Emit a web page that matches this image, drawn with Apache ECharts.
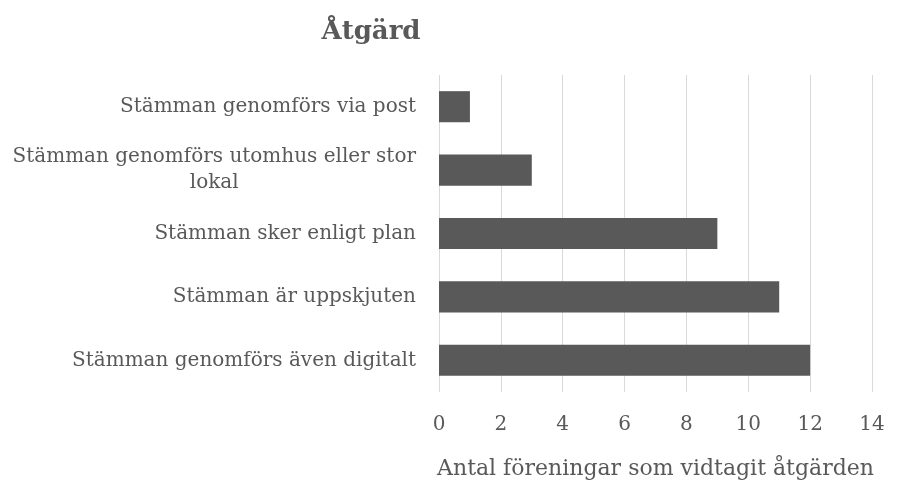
<!DOCTYPE html>
<html lang="sv">
<head>
  <meta charset="UTF-8" />
  <title>Åtgärd</title>
  <script src="https://cdn.jsdelivr.net/npm/echarts@6/dist/echarts.min.js"></script>
  <style>
    body { margin: 0; background: #ffffff; }
    #chart { width: 897px; height: 493px; }
  </style>
</head>
<body>
  <div id="chart"></div>
  <script>
    const categories = [
      'Stämman genomförs via post',
      'Stämman genomförs utomhus eller stor\nlokal',
      'Stämman sker enligt plan',
      'Stämman är uppskjuten',
      'Stämman genomförs även digitalt'
    ];
    const values = [1, 3, 9, 11, 12];
    const xTicks = { min: 0, max: 14, interval: 2 };

    const font = 'DejaVu Serif';
    const grey = '#595959';

    const chart = echarts.init(document.getElementById('chart'));
    chart.setOption({
      animation: false,
      title: {
        text: 'Åtgärd',
        left: 366, top: 14,
        textAlign: 'center',
        textStyle: { fontFamily: font, fontWeight: 'bold', fontSize: 26, color: grey }
      },
      grid: { left: 439, right: 25, top: 75, bottom: 101 },
      xAxis: {
        type: 'value',
        min: xTicks.min, max: xTicks.max, interval: xTicks.interval,
        name: 'Antal föreningar som vidtagit åtgärden',
        nameLocation: 'middle',
        nameGap: 66,
        nameTextStyle: { fontFamily: font, fontSize: 22, color: grey },
        axisLine: { show: false },
        axisTick: { show: false },
        axisLabel: { margin: 23, fontFamily: font, fontSize: 20, color: grey },
        splitLine: { lineStyle: { color: '#d9d9d9', width: 1 } }
      },
      yAxis: {
        type: 'category',
        data: categories,
        inverse: true,
        axisLine: { show: false },
        axisTick: { show: false },
        axisLabel: {
          margin: 23,
          formatter: v => v.split('\n').map(s => '{c|' + s + '}').join('\n'),
          rich: { c: { align: 'center', fontFamily: font, fontSize: 20, color: grey, lineHeight: 26 } }
        }
      },
      series: [{
        type: 'bar',
        data: values,
        barCategoryGap: '51%',
        itemStyle: { color: grey }
      }]
    });
  </script>
</body>
</html>
